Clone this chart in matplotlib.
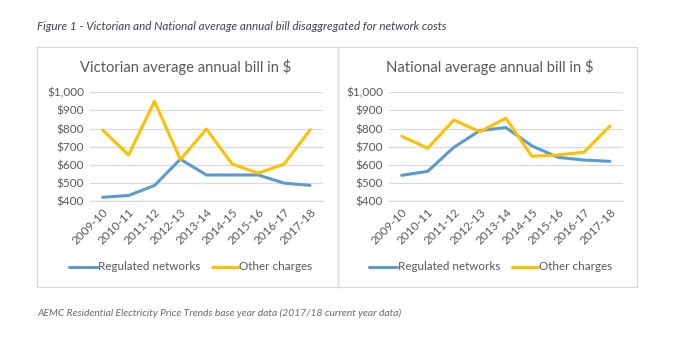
import matplotlib.pyplot as plt
from matplotlib.patches import Rectangle
from matplotlib.ticker import FuncFormatter

# ---------------- data ----------------
years = ["2009-10", "2010-11", "2011-12", "2012-13", "2013-14",
         "2014-15", "2015-16", "2016-17", "2017-18"]

vic_regulated = [422, 432, 487, 632, 545, 545, 545, 500, 488]
vic_other = [792, 655, 950, 630, 798, 605, 555, 605, 793]

nat_regulated = [543, 565, 697, 789, 806, 705, 642, 627, 620]
nat_other = [758, 692, 847, 783, 857, 648, 655, 670, 814]

panel_titles = ["Victorian average annual bill in $", "National average annual bill in $"]
series_names = ["Regulated networks", "Other charges"]

BLUE = "#5B9BD5"
GOLD = "#FFC000"
GRID = "#D9D9D9"
TXT = "#595959"

W, H = 683, 340
fig = plt.figure(figsize=(W / 100, H / 100), dpi=100)
fig.patch.set_facecolor("white")

def px(x0, y0, x1, y1):
    # pixel box (top-left origin) -> figure fraction rect
    return [x0 / W, 1 - y1 / H, (x1 - x0) / W, (y1 - y0) / H]

# outer frame boxes
bg = fig.add_axes([0, 0, 1, 1])
bg.set_xlim(0, W)
bg.set_ylim(H, 0)
bg.axis("off")
for x0, x1 in [(37, 337.5), (337.5, 637)]:
    bg.add_patch(Rectangle((x0, 47), x1 - x0, 240, fill=False, ec=GRID, lw=0.9))

bg.text(37, 26, "Figure 1 - Victorian and National average annual bill disaggregated for network costs",
        fontsize=8.4, style="italic", color="#3F4150", family="Lato", va="center")
bg.text(37, 313, "AEMC Residential Electricity Price Trends base year data (2017/18 current year data)",
        fontsize=7.4, style="italic", color="#6B6B6B", family="Lato", va="center")

panels = [
    (vic_regulated, vic_other, (89.7, 92.3, 323, 201.3), 186, (69, 212)),
    (nat_regulated, nat_other, (388.7, 92.3, 623, 201.3), 490, (369, 512)),
]

money = FuncFormatter(lambda v, p: "${:,.0f}".format(v))

for i, (reg, oth, box, tcx, legx) in enumerate(panels):
    ax = fig.add_axes(px(*box))
    xs = range(len(years))
    ax.plot(xs, reg, color=BLUE, lw=2.2, solid_capstyle="round", zorder=3)
    ax.plot(xs, oth, color=GOLD, lw=2.2, solid_capstyle="round", zorder=3)
    ax.set_xlim(-0.5, len(years) - 0.5)
    ax.set_ylim(400, 1000)
    ax.set_yticks(range(400, 1001, 100))
    ax.yaxis.set_major_formatter(money)
    ax.grid(axis="y", color=GRID, lw=0.9)
    ax.set_axisbelow(True)
    for s in ["top", "right", "left"]:
        ax.spines[s].set_visible(False)
    ax.spines["bottom"].set_color(GRID)
    ax.spines["bottom"].set_linewidth(0.9)
    ax.tick_params(length=0, colors=TXT, labelsize=8.5, pad=4)
    ax.set_xticks(list(xs))
    ax.set_xticklabels(years, rotation=45, ha="right", rotation_mode="anchor")
    for lab in ax.get_xticklabels() + ax.get_yticklabels():
        lab.set_family("Lato")
        lab.set_color(TXT)

    bg.text(tcx, 67, panel_titles[i], fontsize=10.6, color=TXT, family="Lato",
            ha="center", va="center")

    # legend drawn by hand (Excel-style, beneath the plot)
    lx0, lx1 = legx
    bg.plot([lx0, lx0 + 28], [267, 267], color=BLUE, lw=2.2, solid_capstyle="round")
    bg.text(lx0 + 29, 267, series_names[0], fontsize=8.4, color=TXT, family="Lato", va="center")
    bg.plot([lx1, lx1 + 26], [267, 267], color=GOLD, lw=2.2, solid_capstyle="round")
    bg.text(lx1 + 27, 267, series_names[1], fontsize=8.4, color=TXT, family="Lato", va="center")

fig.savefig("out.png", dpi=100, facecolor="white")
